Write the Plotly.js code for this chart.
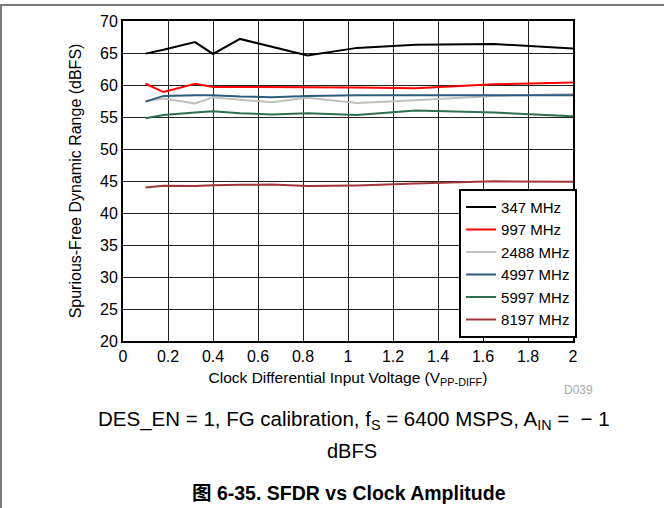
<!DOCTYPE html>
<html>
<head>
<meta charset="utf-8">
<script src="https://cdn.plot.ly/plotly-3.0.1.min.js"></script>
<style>
html,body{margin:0;padding:0;background:#fff;}
#wrap{position:absolute;left:0;top:0;width:664px;height:508px;}
#frame{position:absolute;left:0;top:4px;width:664px;height:504px;border-top:2px solid #7a7a7a;border-left:2px solid #7a7a7a;box-sizing:border-box;pointer-events:none;z-index:5;}
#chart{position:absolute;left:0;top:0;width:664px;height:508px;}
</style>
</head>
<body>
<div id="wrap"><div id="chart"></div><div id="frame"></div></div>
<script>
var voltage = [0.1, 0.18, 0.32, 0.4, 0.52, 0.66, 0.82, 1.04, 1.3, 1.65, 2.0];
var seriesNames = ['347 MHz', '997 MHz', '2488 MHz', '4997 MHz', '5997 MHz', '8197 MHz'];
var sfdr347  = [64.9, 65.5, 66.7, 64.85, 67.2, 66.0, 64.6, 65.8, 66.3, 66.4, 65.7];
var sfdr997  = [60.2, 58.9, 60.2, 59.7, 59.7, 59.7, 59.6, 59.6, 59.5, 60.1, 60.4];
var sfdr2488 = [57.5, 57.9, 57.1, 58.1, 57.7, 57.3, 58.0, 57.2, 57.6, 58.3, 58.6];
var sfdr4997 = [57.4, 58.3, 58.4, 58.4, 58.2, 58.1, 58.3, 58.4, 58.4, 58.4, 58.4];
var sfdr5997 = [54.8, 55.3, 55.7, 55.9, 55.6, 55.4, 55.6, 55.3, 56.0, 55.7, 55.1];
var sfdr8197 = [44.0, 44.25, 44.2, 44.35, 44.4, 44.45, 44.2, 44.3, 44.6, 44.95, 44.9];
var allSeries = [sfdr347, sfdr997, sfdr2488, sfdr4997, sfdr5997, sfdr8197];
var colors = ['#000000', '#ff0000', '#c0c0c0', '#2e5d7c', '#2e7050', '#a3363b'];

var traces = allSeries.map(function(v, i){
  return {x: voltage, y: v, type: 'scatter', mode: 'lines', name: seriesNames[i],
          line: {color: colors[i], width: 2}};
});

var font = 'Liberation Sans, Arial, sans-serif';
var layout = {
  width: 664, height: 508,
  margin: {l: 123, r: 91, t: 21, b: 167, pad: 0},
  paper_bgcolor: '#fff', plot_bgcolor: '#fff',
  showlegend: true,
  font: {family: font, color: '#000', size: 16},
  xaxis: {range: [0, 2], dtick: 0.2, tick0: 0, showgrid: true, gridcolor: '#222', gridwidth: 1,
          showline: true, linecolor: '#000', linewidth: 2, mirror: true, zeroline: false,
          ticks: '', tickfont: {size: 16, family: font, color: '#000'},
          title: {text: 'Clock Differential Input Voltage (V<sub>PP-DIFF</sub>)', font: {size: 15.5, family: font, color: '#000'}, standoff: 8},
          fixedrange: true},
  yaxis: {range: [20, 70], dtick: 5, tick0: 20, showgrid: true, gridcolor: '#222', gridwidth: 1,
          showline: true, linecolor: '#000', linewidth: 2, mirror: true, zeroline: false,
          ticks: '', tickfont: {size: 16, family: font, color: '#000'},
          title: {text: 'Spurious-Free Dynamic Range (dBFS)', font: {size: 16, family: font, color: '#000'}, standoff: 14},
          fixedrange: true},
  legend: {x: 1.009, xanchor: 'right', y: 0.01, yanchor: 'bottom', bgcolor: '#fff',
           bordercolor: '#000', borderwidth: 2, font: {size: 15, family: font, color: '#000'},
           tracegroupgap: 0, itemwidth: 30},
  annotations: [
    {xref: 'paper', yref: 'paper', x: 1.012, y: -0.153, text: 'D039', showarrow: false,
     xanchor: 'center', yanchor: 'middle', font: {size: 12, color: '#aaaaaa', family: font}},
    {xref: 'paper', yref: 'paper', x: 0.513, y: -0.247, showarrow: false, xanchor: 'center', yanchor: 'middle',
     text: 'DES_EN = 1, FG calibration, f<sub>S</sub> = 6400 MSPS, A<sub>IN</sub> =  \u2212 1',
     font: {size: 20.5, color: '#000', family: font}},
    {xref: 'paper', yref: 'paper', x: 0.509, y: -0.344, showarrow: false, xanchor: 'center', yanchor: 'middle',
     text: 'dBFS', font: {size: 20, color: '#000', family: font}},
    {xref: 'paper', yref: 'paper', x: 0.502, y: -0.475, showarrow: false, xanchor: 'center', yanchor: 'middle',
     text: '<b>图 6-35. SFDR vs Clock Amplitude</b>', font: {size: 19.5, color: '#000', family: 'Liberation Sans, Noto Sans CJK SC, sans-serif'}}
  ]
};

Plotly.newPlot('chart', traces, layout, {displayModeBar: false, staticPlot: true});
</script>
</body>
</html>
